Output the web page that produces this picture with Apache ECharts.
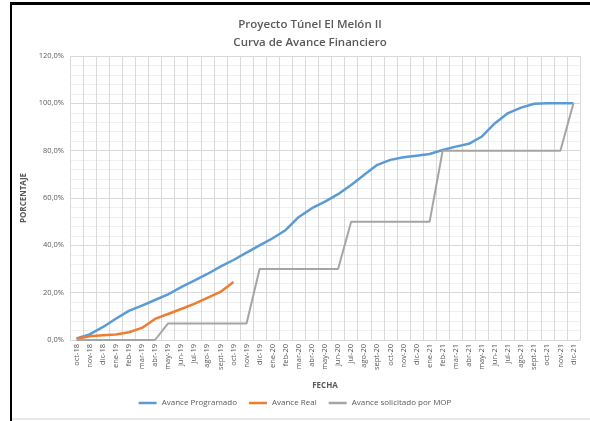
<!doctype html>
<html>
<head>
	<meta charset="UTF-8">
	<title>Curva de Avance Financiero</title>
	<script src="https://cdn.jsdelivr.net/npm/echarts@6/dist/echarts.min.js"></script>
	<style>
		html, body { margin: 0; padding: 0; background: #fff; }
		#chart { width: 590px; height: 421px; }
	</style>
</head>
<body>
<div id="chart"></div>
<script>
	var meses = ['oct-18', 'nov-18', 'dic-18',
		'ene-19', 'feb-19', 'mar-19', 'abr-19', 'may-19', 'jun-19', 'jul-19', 'ago-19', 'sept-19', 'oct-19', 'nov-19', 'dic-19',
		'ene-20', 'feb-20', 'mar-20', 'abr-20', 'may-20', 'jun-20', 'jul-20', 'ago-20', 'sept-20', 'oct-20', 'nov-20', 'dic-20',
		'ene-21', 'feb-21', 'mar-21', 'abr-21', 'may-21', 'jun-21', 'jul-21', 'ago-21', 'sept-21', 'oct-21', 'nov-21', 'dic-21'];

	var programado = [0.7, 2.4, 5.4, 9.0, 12.3, 14.5, 16.9, 19.3, 22.3, 25.1, 27.9, 31.0, 33.8, 36.9, 40.0,
		43.0, 46.5, 52.0, 55.7, 58.5, 61.6, 65.5, 69.8, 74.0, 76.1, 77.2, 77.9,
		78.6, 80.3, 81.7, 82.9, 86.0, 91.6, 95.9, 98.2, 99.8, 100, 100, 100];

	var real = [0.5, 1.6, 2.0, 2.3, 3.3, 5.1, 8.9, 11.0, 13.1, 15.3, 17.8, 20.3, 24.5];

	var solicitadoMop = [0, 0, 0, 0, 0, 0, 0,
		7, 7, 7, 7, 7, 7, 7,
		30, 30, 30, 30, 30, 30, 30,
		50, 50, 50, 50, 50, 50, 50,
		80, 80, 80, 80, 80, 80, 80, 80, 80, 80,
		100];

	var gris = '#595959';
	var fuente = '"Open Sans", "Liberation Sans", Arial, sans-serif';

	var chart = echarts.init(document.getElementById('chart'));
	chart.setOption({
		animation: false,
		textStyle: { fontFamily: fuente },
		title: {
			text: 'Proyecto Túnel El Melón II\nCurva de Avance Financiero',
			left: 305,
			textAlign: 'center',
			top: 11,
			textStyle: { fontSize: 11.5, fontWeight: 600, color: gris, lineHeight: 18, fontFamily: fuente }
		},
		legend: {
			bottom: 9,
			left: 'center',
			icon: 'rect',
			itemWidth: 18,
			itemHeight: 2.5,
			itemGap: 12,
			textStyle: { fontSize: 8, color: gris },
			data: ['Avance Programado', 'Avance Real', 'Avance solicitado por MOP']
		},
		grid: { left: 70, right: 10, top: 56, bottom: 81 },
		xAxis: {
			type: 'category',
			data: meses,
			boundaryGap: true,
			name: 'FECHA',
			nameLocation: 'middle',
			nameGap: 42,
			nameTextStyle: { fontSize: 8, fontWeight: 'bold', color: gris },
			axisLine: { lineStyle: { color: '#d9d9d9' } },
			axisTick: { show: false },
			axisLabel: { interval: 0, rotate: 90, fontSize: 7.5, color: gris, margin: 4 },
			splitLine: { show: true, interval: 0, lineStyle: { color: '#d9d9d9', width: 1 } }
		},
		yAxis: {
			type: 'value',
			min: 0,
			max: 120,
			interval: 20,
			name: 'PORCENTAJE',
			nameLocation: 'middle',
			nameGap: 34,
			nameTextStyle: { fontSize: 8, fontWeight: 'bold', color: gris },
			axisLine: { show: false },
			axisTick: { show: false },
			axisLabel: {
				fontSize: 7.5, color: gris, margin: 6,
				formatter: function (v) { return v.toFixed(1).replace('.', ',') + '%'; }
			},
			splitLine: { lineStyle: { color: '#d9d9d9' } },
			minorTick: { show: false, splitNumber: 5 },
			minorSplitLine: { show: true, lineStyle: { color: '#f0f0f0' } }
		},
		series: [{
			name: 'Avance Programado',
			type: 'line',
			data: programado,
			symbol: 'none',
			itemStyle: { color: '#5b9bd5' },
			lineStyle: { color: '#5b9bd5', width: 2.5 }
		}, {
			name: 'Avance Real',
			type: 'line',
			data: real,
			symbol: 'none',
			itemStyle: { color: '#ed7d31' },
			lineStyle: { color: '#ed7d31', width: 2.5 }
		}, {
			name: 'Avance solicitado por MOP',
			type: 'line',
			data: solicitadoMop,
			symbol: 'none',
			itemStyle: { color: '#a5a5a5' },
			lineStyle: { color: '#a5a5a5', width: 2 }
		}],
		graphic: [
			{ type: 'line', shape: { x1: 10, y1: 3.5, x2: 590, y2: 3.5 }, style: { stroke: '#000', lineWidth: 3 } },
			{ type: 'line', shape: { x1: 11, y1: 3, x2: 11, y2: 421 }, style: { stroke: '#000', lineWidth: 2 } },
			{ type: 'line', shape: { x1: 12, y1: 419, x2: 590, y2: 419 }, style: { stroke: '#d0d0d0', lineWidth: 1 } }
		]
	});
</script>
</body>
</html>
